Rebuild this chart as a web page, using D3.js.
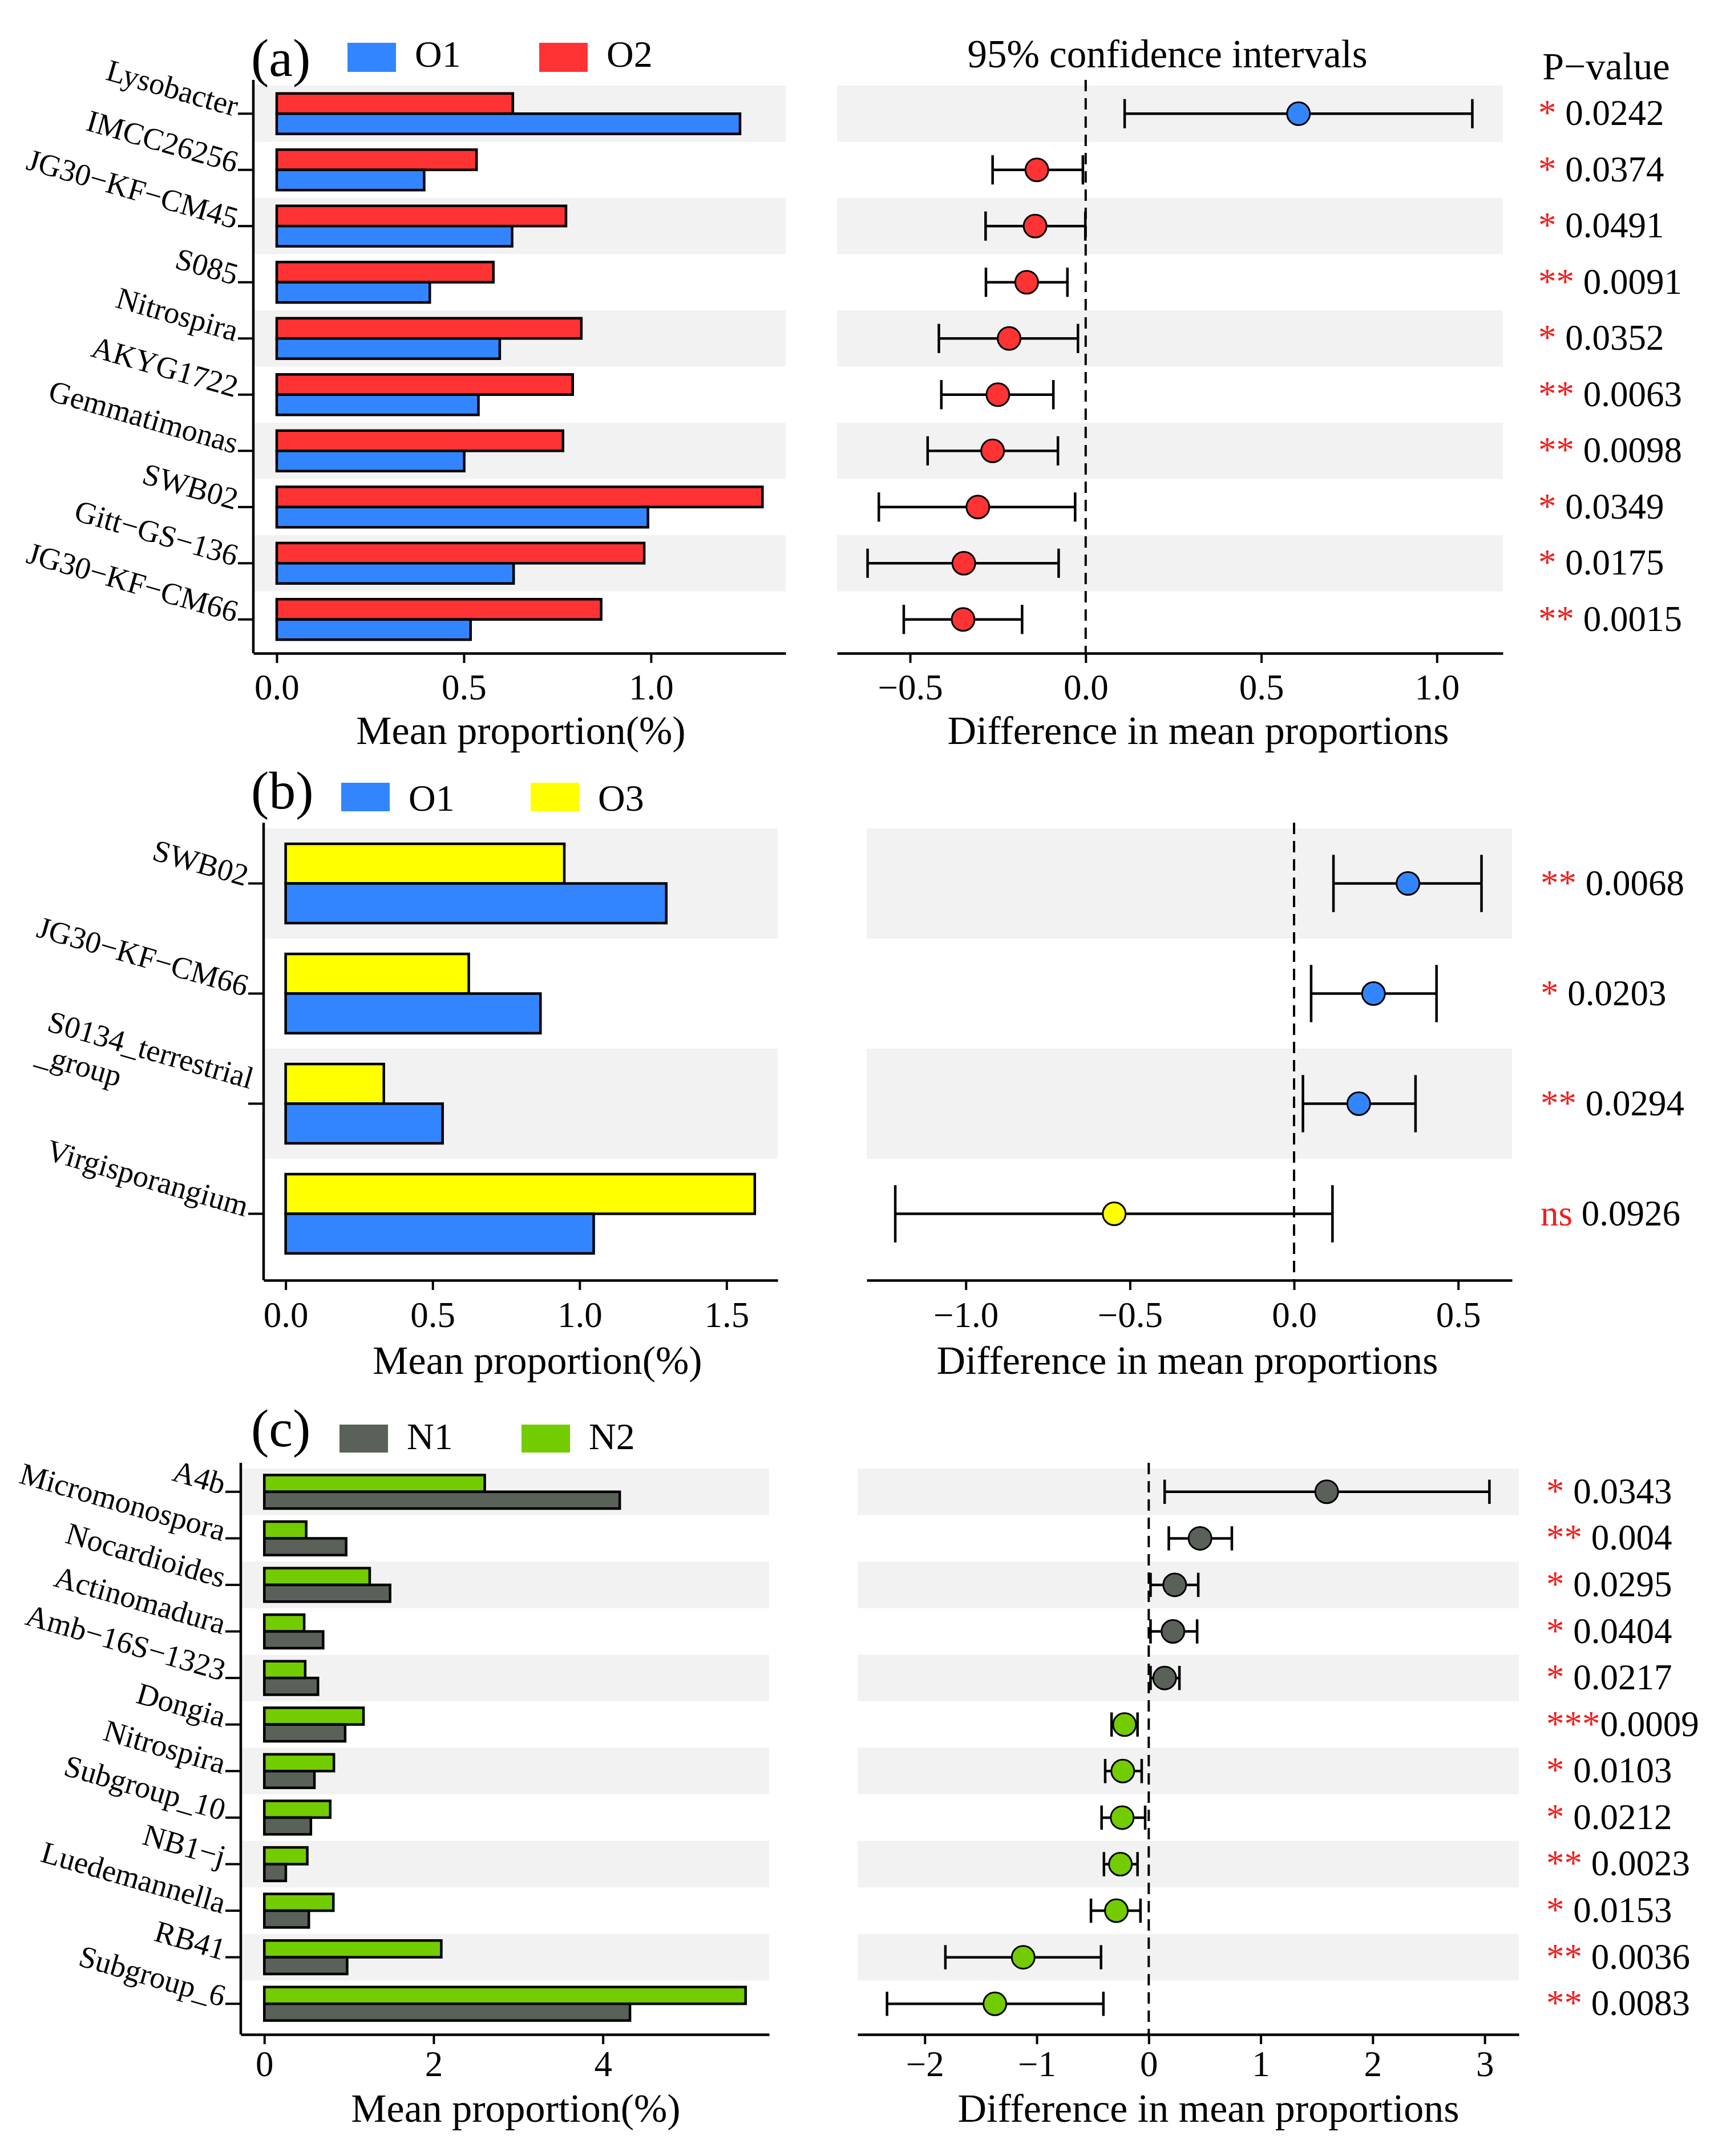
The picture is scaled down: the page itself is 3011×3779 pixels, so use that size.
<!DOCTYPE html>
<html lang="en">
<head>
<meta charset="UTF-8">
<title>Extended error bar plots</title>
<style>
  body { margin: 0; background: #fff; }
  svg text { font-family: 'Liberation Serif', 'DejaVu Serif', serif; fill: #000; }
</style>
</head>
<body>
<svg id="chart" width="3011" height="3779"></svg>
<script src="https://cdn.jsdelivr.net/npm/d3@7"></script>
<script>
// ---- panel (a): O1 vs O2 ----
const catsA = ["Lysobacter", "IMCC26256", "JG30−KF−CM45", "S085", "Nitrospira", "AKYG1722", "Gemmatimonas", "SWB02", "Gitt−GS−136", "JG30−KF−CM66"];
const meanA_O1 = [1.238, 0.394, 0.629, 0.409, 0.596, 0.539, 0.501, 0.992, 0.633, 0.518];
const meanA_O2 = [0.631, 0.534, 0.773, 0.579, 0.814, 0.791, 0.765, 1.298, 0.982, 0.867];
const diffA = [0.606, -0.139, -0.144, -0.168, -0.218, -0.250, -0.265, -0.307, -0.347, -0.349];
const lowA  = [0.111, -0.265, -0.285, -0.284, -0.418, -0.411, -0.450, -0.589, -0.621, -0.518];
const highA = [1.101, -0.008, -0.001, -0.052, -0.022, -0.092, -0.079, -0.030, -0.077, -0.181];
const starsA = ["*", "*", "*", "**", "*", "**", "**", "*", "*", "**"];
const pA = ["0.0242", "0.0374", "0.0491", "0.0091", "0.0352", "0.0063", "0.0098", "0.0349", "0.0175", "0.0015"];
const ticksA_bar = [0, 0.5, 1.0];
const ticksA_ci = [-0.5, 0, 0.5, 1.0];

// ---- panel (b): O1 vs O3 ----
const catsB = ["SWB02", "JG30−KF−CM66", "S0134_terrestrial\n_group", "Virgisporangium"];
const meanB_O1 = [1.295, 0.867, 0.534, 1.048];
const meanB_O3 = [0.948, 0.623, 0.334, 1.596];
const diffB = [0.347, 0.242, 0.197, -0.548];
const lowB  = [0.120, 0.052, 0.027, -1.215];
const highB = [0.571, 0.434, 0.370, 0.117];
const starsB = ["**", "*", "**", "ns"];
const pB = ["0.0068", "0.0203", "0.0294", "0.0926"];
const ticksB_bar = [0, 0.5, 1.0, 1.5];
const ticksB_ci = [-1.0, -0.5, 0, 0.5];

// ---- panel (c): N1 vs N2 ----
const catsC = ["A4b", "Micromonospora", "Nocardioides", "Actinomadura", "Amb−16S−1323", "Dongia", "Nitrospira", "Subgroup_10", "NB1−j", "Luedemannella", "RB41", "Subgroup_6"];
const meanC_N1 = [4.199, 0.967, 1.486, 0.695, 0.634, 0.955, 0.592, 0.550, 0.254, 0.526, 0.979, 4.320];
const meanC_N2 = [2.604, 0.495, 1.245, 0.471, 0.483, 1.172, 0.822, 0.779, 0.508, 0.816, 2.091, 5.686];
const diffC = [1.589, 0.458, 0.232, 0.216, 0.142, -0.216, -0.232, -0.237, -0.253, -0.289, -1.121, -1.374];
const lowC  = [0.142, 0.179, 0.016, 0.016, 0.016, -0.332, -0.389, -0.421, -0.400, -0.516, -1.816, -2.337];
const highC = [3.042, 0.742, 0.442, 0.432, 0.274, -0.100, -0.063, -0.032, -0.100, -0.074, -0.426, -0.405];
const starsC = ["*", "**", "*", "*", "*", "***", "*", "*", "**", "*", "**", "**"];
const pC = ["0.0343", "0.004", "0.0295", "0.0404", "0.0217", "0.0009", "0.0103", "0.0212", "0.0023", "0.0153", "0.0036", "0.0083"];
const ticksC_bar = [0, 2, 4];
const ticksC_ci = [-2, -1, 0, 1, 2, 3];

const BLUE = "#3385ff", RED = "#ff3333", YELLOW = "#ffff00", GREY = "#5a6159", GREEN = "#73cc00";
const STAR_RED = "#f01e1e";

const svg = d3.select("#chart");

const panels = [
  { letter: "(a)", names: ["O1", "O2"], colors: [BLUE, RED],
    cats: catsA, g1: meanA_O1, g2: meanA_O2, diff: diffA, lo: lowA, hi: highA, stars: starsA, p: pA,
    ticksBar: ticksA_bar, ticksCi: ticksA_ci, fmtBar: ".1f", fmtCi: ".1f",
    top: 150, bottom: 1135, axisY: 1145, barRange: [444, 1377], barDom: [-0.0625, 1.36],
    ciRange: [1467, 2634], ciDom: [-0.708, 1.188],
    letterY: 133, legX: [609, 945], legY: 75, legH: 51, legTextY: 117,
    tickY: 1226, titleY: 1304, titleBarX: 913, titleCiX: 2100, pX: 2696, header: true },
  { letter: "(b)", names: ["O1", "O3"], colors: [BLUE, YELLOW],
    cats: catsB, g1: meanB_O1, g2: meanB_O3, diff: diffB, lo: lowB, hi: highB, stars: starsB, p: pB,
    ticksBar: ticksB_bar, ticksCi: ticksB_ci, fmtBar: ".1f", fmtCi: ".1f",
    top: 1452, bottom: 2224, axisY: 2244, barRange: [462, 1363], barDom: [-0.075, 1.674],
    ciRange: [1519, 2650], ciDom: [-1.302, 0.664],
    letterY: 1417, legX: [598, 930], legY: 1372, legH: 50, legTextY: 1421,
    tickY: 2326, titleY: 2408, titleBarX: 942, titleCiX: 2081, pX: 2700, header: false },
  { letter: "(c)", names: ["N1", "N2"], colors: [GREY, GREEN],
    cats: catsC, g1: meanC_N1, g2: meanC_N2, diff: diffC, lo: lowC, hi: highC, stars: starsC, p: pC,
    ticksBar: ticksC_bar, ticksCi: ticksC_ci, fmtBar: "d", fmtCi: "d",
    top: 2574, bottom: 3553, axisY: 3566, barRange: [422, 1348], barDom: [-0.278, 5.964],
    ciRange: [1503, 2662], ciDom: [-2.6, 3.305],
    letterY: 2535, legX: [595, 914], legY: 2497, legH: 49, legTextY: 2540,
    tickY: 3639, titleY: 3719, titleBarX: 904, titleCiX: 2118, pX: 2710, header: false }
];

panels.forEach(drawPanel);

function drawPanel(P) {
  const y = d3.scaleBand().domain(P.cats).range([P.top, P.bottom]);
  const xb = d3.scaleLinear().domain(P.barDom).range(P.barRange);
  const xc = d3.scaleLinear().domain(P.ciDom).range(P.ciRange);
  const bw = y.bandwidth();
  const mid = c => y(c) + bw / 2;

  // shaded rows
  const shaded = P.cats.filter((c, i) => i % 2 === 0);
  [P.barRange, P.ciRange].forEach(r => {
    svg.append("g").selectAll("rect").data(shaded).join("rect")
      .attr("x", r[0]).attr("width", r[1] - r[0])
      .attr("y", c => y(c)).attr("height", bw)
      .attr("fill", "#f2f2f2");
  });

  // bars: second group on top, first group below
  const bh = bw * 0.36;
  const bars = svg.append("g");
  bars.selectAll(".top").data(P.cats).join("rect")
    .attr("x", xb(0)).attr("y", c => mid(c) - bh)
    .attr("width", (c, i) => xb(P.g2[i]) - xb(0)).attr("height", bh)
    .attr("fill", P.colors[1]).attr("stroke", "#000").attr("stroke-width", 4.5);
  bars.selectAll(".bot").data(P.cats).join("rect")
    .attr("x", xb(0)).attr("y", c => mid(c))
    .attr("width", (c, i) => xb(P.g1[i]) - xb(0)).attr("height", bh)
    .attr("fill", P.colors[0]).attr("stroke", "#000").attr("stroke-width", 4.5);

  // left axis line + ticks (labels drawn separately, rotated)
  svg.append("line").attr("x1", P.barRange[0]).attr("x2", P.barRange[0])
    .attr("y1", P.top - 10).attr("y2", P.axisY)
    .attr("stroke", "#000").attr("stroke-width", 4.5);
  const gy = svg.append("g").attr("transform", `translate(${P.barRange[0]},0)`)
    .call(d3.axisLeft(y).tickSize(27).tickFormat(""));
  gy.select(".domain").remove();
  gy.selectAll(".tick text").remove();
  gy.selectAll(".tick line").attr("stroke-width", 4);

  P.cats.forEach(c => {
    const lines = c.split("\n");
    const g = svg.append("g")
      .attr("transform", `translate(${P.barRange[0] - 33},${mid(c) + 5}) rotate(16)`)
      .attr("font-size", 54);
    if (lines.length === 1) {
      g.append("text").attr("text-anchor", "end").text(c);
    } else {
      const t1 = g.append("text").attr("text-anchor", "end").attr("y", -32).text(lines[0]);
      const w = t1.node().getComputedTextLength();
      g.append("text").attr("x", -w - 4).attr("y", 28).text(lines[1]);
    }
  });

  // x axes
  function xAxis(scale, ticks, fmt, titleX, title) {
    const g = svg.append("g").attr("transform", `translate(0,${P.axisY})`)
      .call(d3.axisBottom(scale).tickValues(ticks).tickFormat(d3.format(fmt)).tickSize(17).tickSizeOuter(0));
    g.attr("font-size", 63).attr("font-family", null);
    g.select(".domain").attr("stroke-width", 4.5);
    g.selectAll(".tick line").attr("stroke-width", 4);
    g.selectAll(".tick text").attr("y", P.tickY - P.axisY).attr("dy", null).attr("fill", "#000");
    svg.append("text").attr("x", titleX).attr("y", P.titleY)
      .attr("text-anchor", "middle").attr("font-size", 70).text(title);
  }
  xAxis(xb, P.ticksBar, P.fmtBar, P.titleBarX, "Mean proportion(%)");
  xAxis(xc, P.ticksCi, P.fmtCi, P.titleCiX, "Difference in mean proportions");

  // zero reference line
  svg.append("line").attr("x1", xc(0)).attr("x2", xc(0))
    .attr("y1", P.top - 10).attr("y2", P.axisY)
    .attr("stroke", "#000").attr("stroke-width", 4).attr("stroke-dasharray", "20,12");

  // confidence intervals
  const cap = bw * 0.26;
  const ci = svg.append("g").attr("stroke", "#000").attr("stroke-width", 4.5);
  P.cats.forEach((c, i) => {
    const m = mid(c);
    ci.append("line").attr("x1", xc(P.lo[i])).attr("x2", xc(P.hi[i])).attr("y1", m).attr("y2", m);
    ci.append("line").attr("x1", xc(P.lo[i])).attr("x2", xc(P.lo[i])).attr("y1", m - cap).attr("y2", m + cap);
    ci.append("line").attr("x1", xc(P.hi[i])).attr("x2", xc(P.hi[i])).attr("y1", m - cap).attr("y2", m + cap);
  });
  svg.append("g").selectAll("circle").data(P.cats).join("circle")
    .attr("cx", (c, i) => xc(P.diff[i])).attr("cy", c => mid(c)).attr("r", 20)
    .attr("fill", (c, i) => P.diff[i] > 0 ? P.colors[0] : P.colors[1])
    .attr("stroke", "#000").attr("stroke-width", 3);

  // p-values
  P.cats.forEach((c, i) => {
    const t = svg.append("text").attr("x", P.pX).attr("y", mid(c) + 20).attr("font-size", 63);
    t.append("tspan").attr("fill", STAR_RED).text(P.stars[i]);
    t.append("tspan").text((P.stars[i] === "***" ? "" : " ") + P.p[i]);
  });

  // legend
  svg.append("text").attr("x", 440).attr("y", P.letterY).attr("font-size", 94).text(P.letter);
  P.names.forEach((n, k) => {
    svg.append("rect").attr("x", P.legX[k]).attr("y", P.legY).attr("width", 85).attr("height", P.legH)
      .attr("fill", P.colors[k]);
    svg.append("text").attr("x", P.legX[k] + 118).attr("y", P.legTextY).attr("font-size", 66).text(n);
  });

  if (P.header) {
    svg.append("text").attr("x", 2046).attr("y", 118).attr("text-anchor", "middle")
      .attr("font-size", 69).text("95% confidence intervals");
    svg.append("text").attr("x", 2815).attr("y", 139).attr("text-anchor", "middle")
      .attr("font-size", 68).text("P−value");
  }
}
</script>
</body>
</html>
